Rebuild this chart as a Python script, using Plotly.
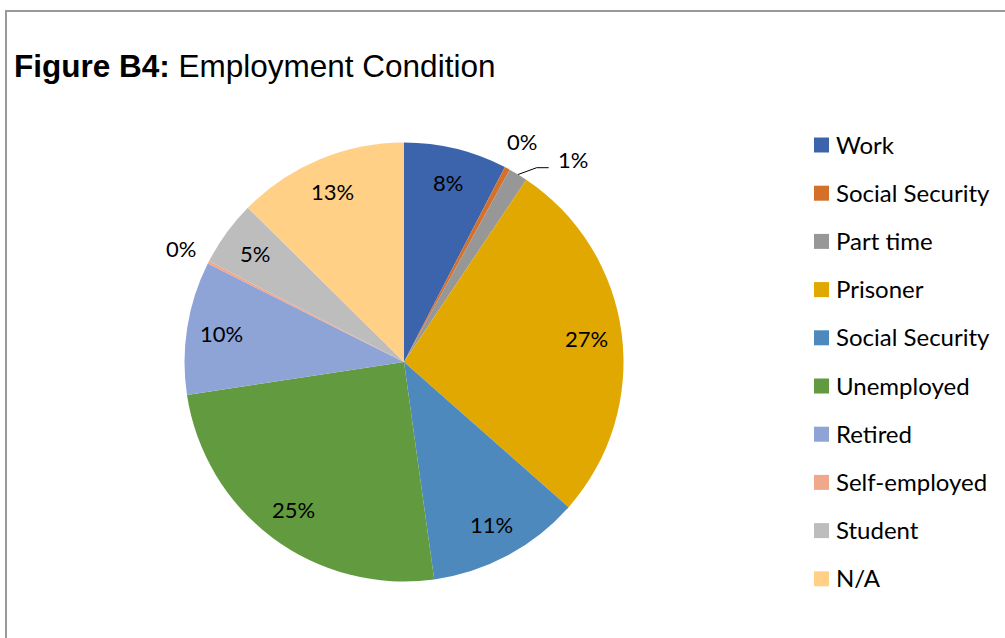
import math
import plotly.graph_objects as go

# Employment condition shares (percent), clockwise from 12 o'clock
categories = ["Work", "Social Security", "Part time", "Prisoner", "Social Security",
              "Unemployed", "Retired", "Self-employed", "Student", "N/A"]
shares = [7.6, 0.4, 1.4, 27.1, 11.3, 24.8, 9.8, 0.2, 4.8, 12.6]
colors = ["#3C64AD", "#D5702B", "#979797", "#E0A800", "#4E89BE",
          "#629B3F", "#8EA3D6", "#F1A78A", "#BDBDBD", "#FFD086"]

W, H = 1005, 638
CX, CY, R = 404, 362, 219.5          # pie centre and radius in pixels
FONT = "Lato"


def px(x):
    return x / W


def py(y):
    return 1 - y / H


fig = go.Figure()
fig.add_trace(go.Pie(
    labels=[f"{c}#{i}" for i, c in enumerate(categories)],
    values=shares,
    sort=False,
    direction="clockwise",
    rotation=0,
    marker=dict(colors=colors, line=dict(width=0)),
    textinfo="none",
    hoverinfo="skip",
    showlegend=False,
    domain=dict(x=[px(CX - R), px(CX + R)], y=[py(CY + R), py(CY - R)]),
))

annotations = []
shapes = []

# percentage labels placed around each slice's mid angle
total = sum(shares)
cum = 0.0
outside = {"Social Security#1": (0.0, 1.14), "Part time#2": (8.5, 1.20),
           "Self-employed#7": (0.0, 1.14)}
for i, (cat, v) in enumerate(zip(categories, shares)):
    mid = (cum + v / 2) / total * 360.0
    cum += v
    key = f"{cat}#{i}"
    text = f"{round(v / total * 100):.0f}%"
    if key in outside:
        dang, rf = outside[key]
        a = math.radians(mid + dang)
        lx, ly = CX + rf * R * math.sin(a), CY - rf * R * math.cos(a)
        if dang:
            am = math.radians(mid)
            sx, sy = CX + R * math.sin(am), CY - R * math.cos(am)
            ex, ey = lx - 24, ly + 8
            shapes.append(dict(type="path", xref="paper", yref="paper",
                               path=f"M{px(sx)},{py(sy)} L{px(ex - 12)},{py(ey)} L{px(ex)},{py(ey)}",
                               line=dict(color="#000000", width=1)))
    else:
        a = math.radians(mid)
        lx, ly = CX + 0.84 * R * math.sin(a), CY - 0.84 * R * math.cos(a)
    annotations.append(dict(x=px(lx), y=py(ly), xref="paper", yref="paper",
                            text=text, showarrow=False, xanchor="center", yanchor="middle",
                            font=dict(family=FONT, size=22, color="#000000")))

# legend: colour swatch and label per category
for i, (cat, col) in enumerate(zip(categories, colors)):
    yc = 145 + i * 48.2
    shapes.append(dict(type="rect", xref="paper", yref="paper",
                       x0=px(814), x1=px(829), y0=py(yc - 7.5), y1=py(yc + 7.5),
                       fillcolor=col, line=dict(width=0)))
    annotations.append(dict(x=px(834), y=py(yc - 1), xref="paper", yref="paper",
                            text=cat, showarrow=False, xanchor="left", yanchor="middle",
                            font=dict(family=FONT, size=24, color="#000000")))

# title
annotations.append(dict(x=px(12), y=py(66), xref="paper", yref="paper",
                        text="<b>Figure B4:</b> Employment Condition", showarrow=False,
                        xanchor="left", yanchor="middle",
                        font=dict(family="Liberation Sans", size=31.5, color="#000000")))

# chart frame
shapes.append(dict(type="rect", xref="paper", yref="paper",
                   x0=px(6), x1=px(1012), y0=py(650), y1=py(11),
                   line=dict(color="#999999", width=2), fillcolor="rgba(0,0,0,0)"))

fig.update_layout(
    width=W, height=H, autosize=False,
    margin=dict(l=0, r=0, t=0, b=0),
    paper_bgcolor="#FFFFFF", plot_bgcolor="#FFFFFF",
    annotations=annotations, shapes=shapes,
)

fig.write_html("out.html")
